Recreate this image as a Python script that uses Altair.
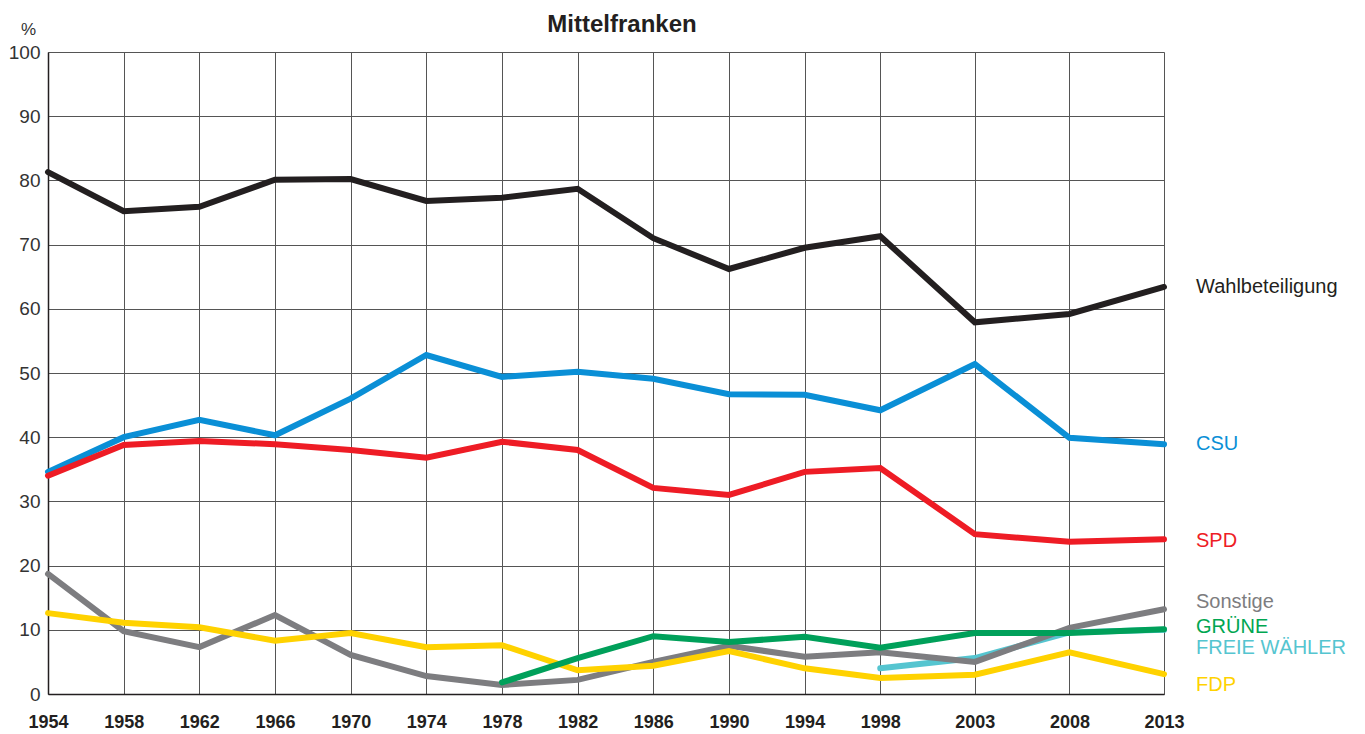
import altair as alt
import pandas as pd

years = [1954, 1958, 1962, 1966, 1970, 1974, 1978, 1982,
         1986, 1990, 1994, 1998, 2003, 2008, 2013]

wahlbeteiligung = [81.3, 75.2, 75.9, 80.1, 80.2, 76.8, 77.3, 78.7, 71.0, 66.2, 69.5, 71.3, 57.9, 59.2, 63.4]
csu = [34.6, 40.0, 42.7, 40.3, 46.0, 52.8, 49.4, 50.2, 49.1, 46.7, 46.6, 44.2, 51.4, 39.9, 38.9]
spd = [34.0, 38.8, 39.4, 38.9, 38.0, 36.8, 39.3, 38.0, 32.1, 31.0, 34.6, 35.2, 24.9, 23.7, 24.1]
sonstige = [18.7, 9.8, 7.3, 12.3, 6.1, 2.8, 1.4, 2.2, 5.0, 7.5, 5.8, 6.5, 5.0, 10.3, 13.2]
fdp = [12.6, 11.1, 10.4, 8.3, 9.5, 7.3, 7.6, 3.7, 4.4, 6.7, 4.0, 2.5, 3.0, 6.5, 3.1]
gruene = [None, None, None, None, None, None, 1.8, 5.6, 9.0, 8.1, 8.9, 7.2, 9.5, 9.5, 10.1]
freie_waehler = [None, None, None, None, None, None, None, None, None, None, None, 4.0, 5.6, 9.6, 10.0]

series_names = ["Wahlbeteiligung", "CSU", "SPD", "FREIE WÄHLER", "Sonstige", "FDP", "GRÜNE"]
series_values = [wahlbeteiligung, csu, spd, freie_waehler, sonstige, fdp, gruene]
line_colors = ["#231f20", "#0a8fd6", "#ee1c25", "#55c5d0", "#7d7d80", "#ffd200", "#00a05a"]

label_names = ["Wahlbeteiligung", "CSU", "SPD", "Sonstige", "GRÜNE", "FREIE WÄHLER", "FDP"]
label_y = [63.4, 38.9, 23.8, 14.3, 10.4, 7.1, 1.4]
label_colors = ["#231f20", "#0a8fd6", "#ee1c25", "#7d7d80", "#00a651", "#55c5d0", "#ffd200"]

chart_title = "Mittelfranken"

rows = []
for name, vals in zip(series_names, series_values):
    for yr, v in zip(years, vals):
        if v is not None:
            rows.append({"year": yr, "value": v, "series": name})
df = pd.DataFrame(rows)

lab_df = pd.DataFrame({"year": [years[-1]] * len(label_names), "value": label_y, "series": label_names})

sans = "Liberation Sans, Arial, Helvetica, sans-serif"

x_enc = alt.X("year:Q", scale=alt.Scale(domain=[years[0], years[-1]], nice=False, zero=False),
              axis=alt.Axis(title=None, labelAngle=0, values=years, format="d", grid=True,
                            gridColor="#555555", gridWidth=1,
                            ticks=False, domainColor="#231f20", domainWidth=1.5,
                            labelFont=sans, labelFontSize=18, labelFontWeight="bold",
                            labelColor="#231f20", labelPadding=19, labelFlush=False,
                            labelOverlap=False))
y_enc = alt.Y("value:Q", scale=alt.Scale(domain=[0, 100], nice=False),
              axis=alt.Axis(title="%", titleAngle=0, titleFont=sans, titleFontSize=17,
                            titleFontWeight="normal", titleColor="#333333",
                            titleX=-20, titleY=-14, titleAlign="center",
                            values=list(range(0, 101, 10)), grid=True, gridColor="#555555",
                            gridWidth=1, ticks=False, domainColor="#231f20", domainWidth=1.5,
                            labelFont=sans, labelFontSize=19, labelColor="#333333",
                            labelPadding=8))

layers = []
for name, col in zip(series_names, line_colors):
    layers.append(
        alt.Chart(df).transform_filter(alt.datum.series == name)
        .mark_line(color=col, strokeWidth=6, strokeCap="round", strokeJoin="miter")
        .encode(x=x_enc, y=y_enc)
    )

labels = alt.Chart(lab_df).mark_text(align="left", baseline="middle", dx=32, fontSize=20,
                                     font=sans).encode(
    x=alt.X("year:Q"),
    y=alt.Y("value:Q"),
    text="series:N",
    color=alt.Color("series:N", scale=alt.Scale(domain=label_names, range=label_colors), legend=None),
)

title_layer = alt.Chart(pd.DataFrame({"t": [chart_title]})).mark_text(
    align="center", baseline="middle", fontSize=24, fontWeight="bold", font=sans, color="#231f20"
).encode(text="t:N", x=alt.value(574), y=alt.value(-27))

chart = alt.layer(*layers, labels, title_layer).properties(
    width=1116, height=642,
    autosize=alt.AutoSizeParams(type="none"),
    padding={"left": 40, "top": 44, "right": 190, "bottom": 40},
).configure_view(stroke="#444444", strokeWidth=1).configure(background="white")

chart.save("out.html", embed_options={"renderer": "svg", "actions": False})
